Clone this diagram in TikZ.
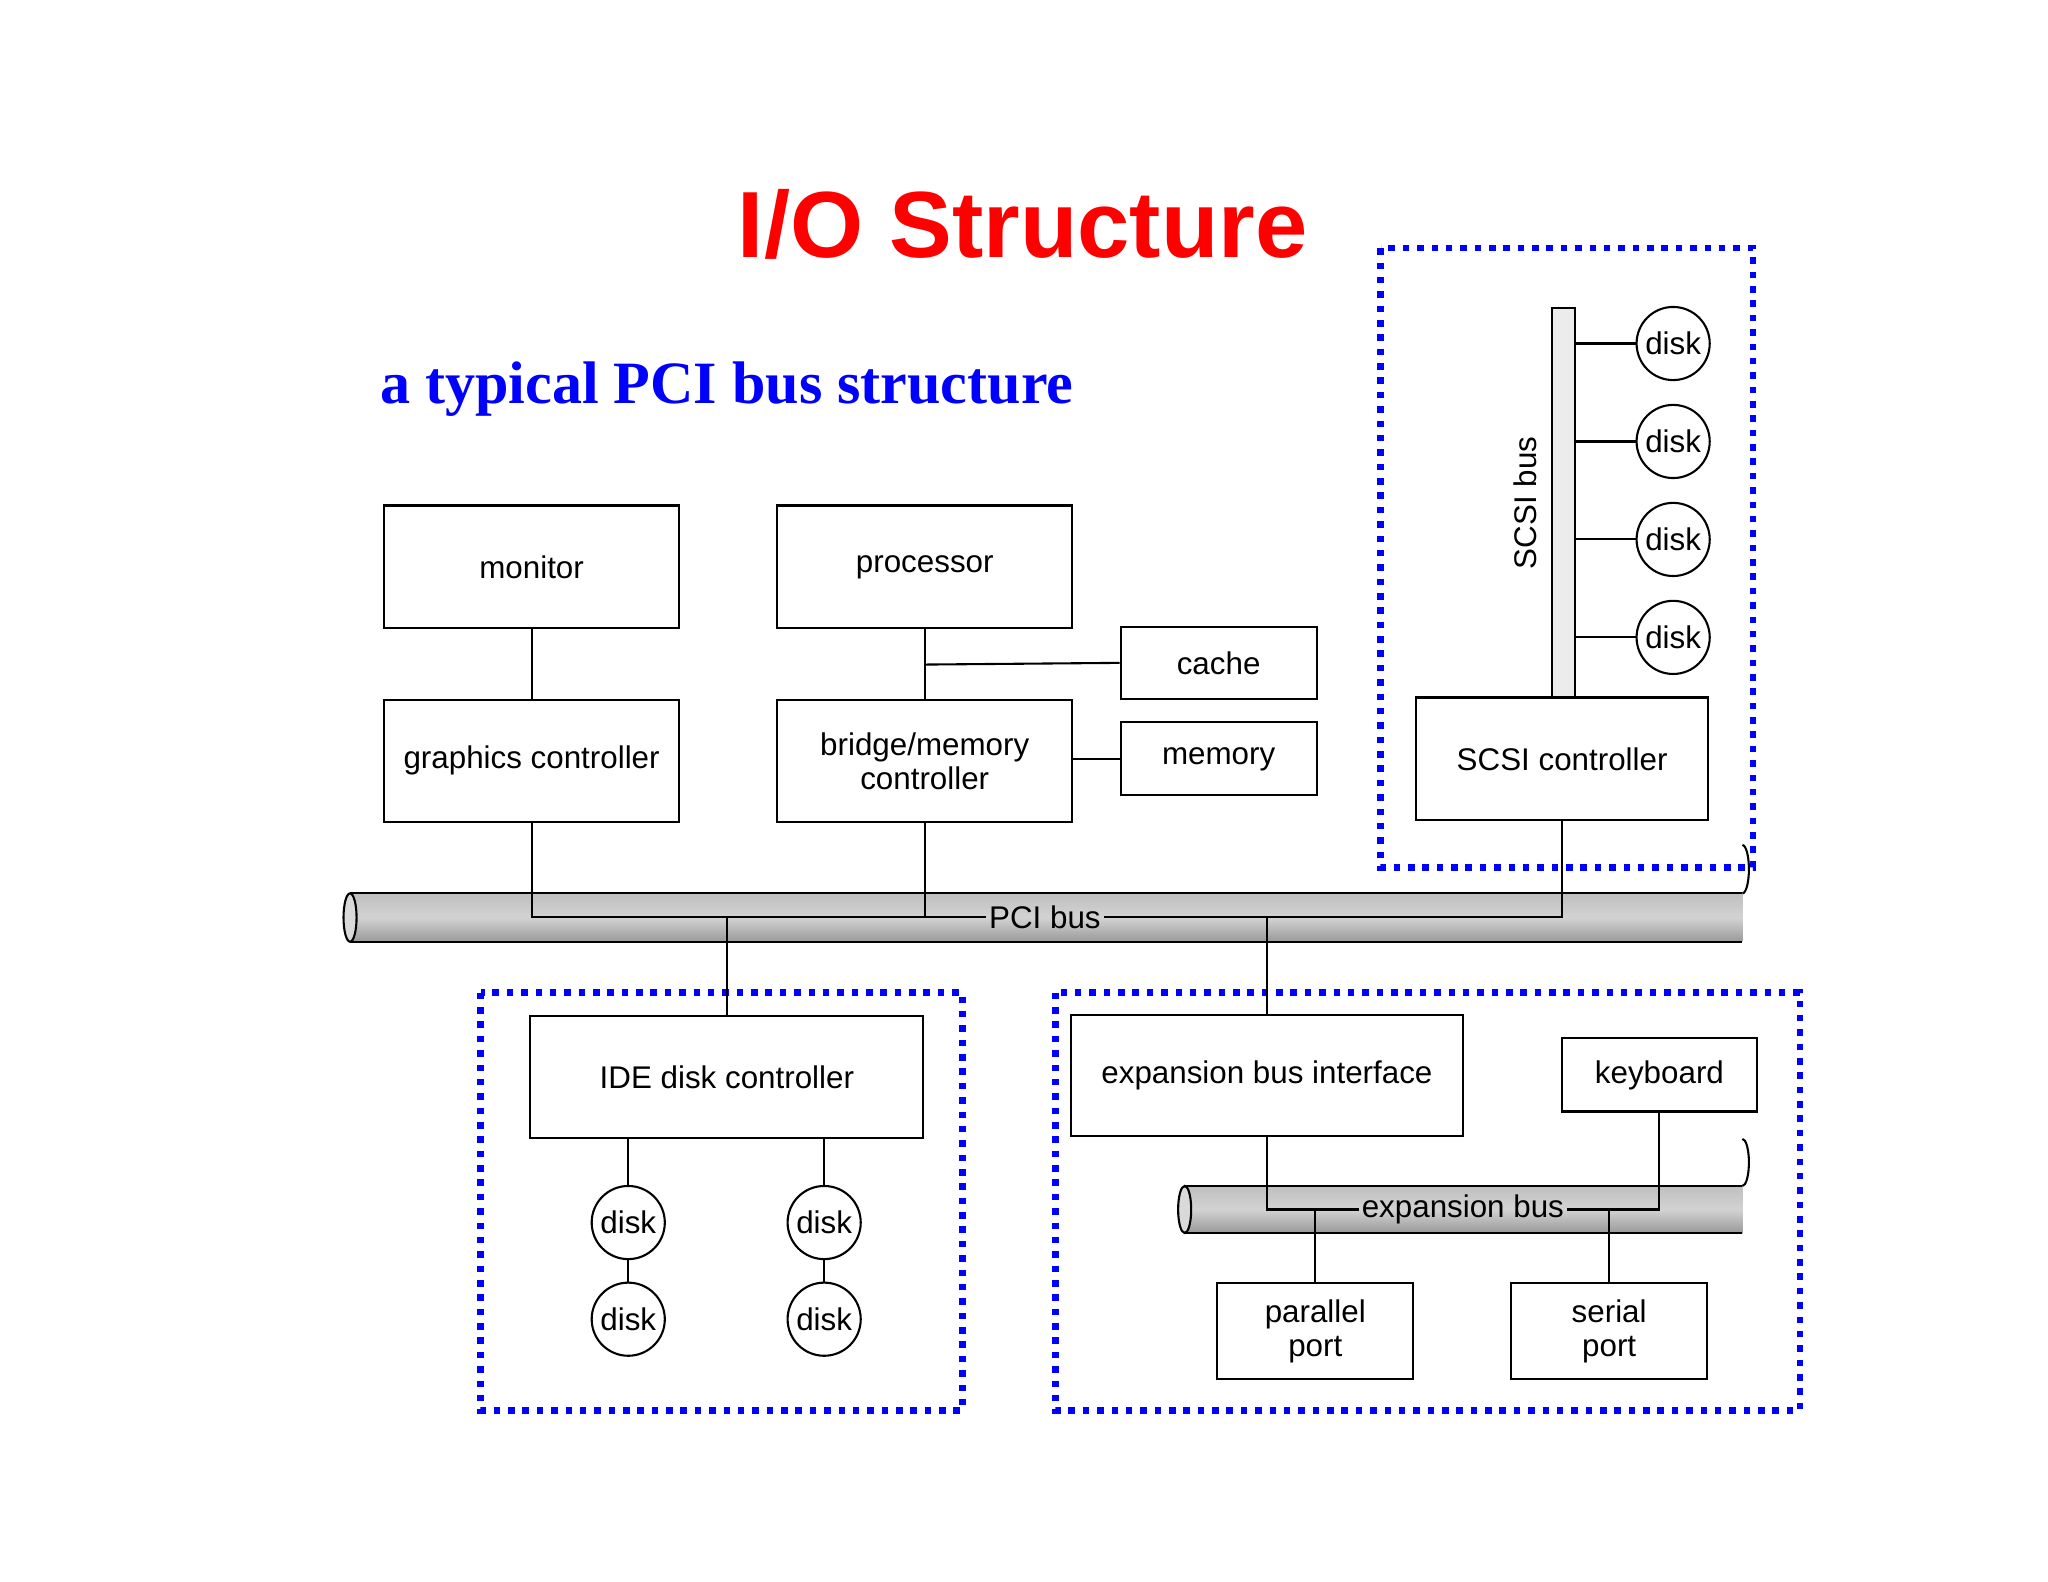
\documentclass[tikz,border=0pt]{standalone}
\usepackage{fontspec}
\setmainfont{Liberation Sans}
\newfontfamily\serifbold{Liberation Serif}
\begin{document}
\begin{tikzpicture}[x=0.5pt,y=-0.5pt,
  box/.style={draw,thick,inner sep=0pt,font=\fontsize{12}{13}\selectfont,align=center},
  dsk/.style={draw,thick,circle,minimum size=28pt,inner sep=0pt,font=\fontsize{12}{13}\selectfont},
  grp/.style={draw=blue,line width=2.5pt,dash pattern=on 2.5pt off 3pt},
  ln/.style={thick}]
\useasboundingbox (0,0) rectangle (1568,1211);
\fill[white] (0,0) rectangle (1568,1211);
\newcommand{\bx}[6]{\node[box,minimum width={(#4-#2)*0.5pt},minimum height={(#5-#3)*0.5pt}] (#1) at ({(#2+#4)/2},{(#3+#5)/2}) {#6};}
\newcommand{\cyl}[5]{% name x1 y1 x2 y2
  \shade[top color=gray!50,bottom color=gray!80,middle color=gray!35] (#2,#3) rectangle (#4,#5);
  \draw[thick] (#2,#3) -- (#4,#3) (#2,#5) -- (#4,#5);
  \draw[thick,fill=gray!30] (#2,{(#3+#5)/2}) ellipse [x radius=5,y radius={(#5-#3)/2}];
  \draw[thick] (#4,#3) arc[start angle=90,end angle=-90,x radius=5,y radius={(#5-#3)/2}];
  \coordinate (#1) at ({(#2+#4)/2},{(#3+#5)/2});}
\node[text=red,font=\fontsize{36}{40}\selectfont\bfseries] (title) at (783,172) {I/O Structure};
\node[text=blue,font=\serifbold\fontsize{23}{26}\selectfont\bfseries,anchor=west] (sub) at (284,298) {a typical PCI bus structure};
% groups
\draw[grp] (1057,190) rectangle (1342,664);
\draw[grp] (368,760) rectangle (737,1080);
\draw[grp] (808,760) rectangle (1378,1080);
% PCI bus
\cyl{pci}{268}{684}{1334}{721}
\cyl{exb}{907}{908}{1334}{944}
\node[font=\fontsize{12}{13}\selectfont,inner sep=1pt] (pcil) at (800,702) {PCI bus};
\node[font=\fontsize{12}{13}\selectfont,inner sep=1pt] (exbl) at (1120,926) {expansion bus};
% boxes
\bx{mon}{294}{387}{520}{481}{monitor}
\bx{proc}{595}{387}{821}{481}{processor}
\bx{cache}{858}{480}{1008}{535}{cache}
\bx{gc}{294}{536}{520}{629}{graphics controller}
\bx{br}{595}{536}{821}{629}{bridge/memory\\controller}
\bx{mem}{858}{553}{1008}{609}{memory}
\bx{scsi}{1084}{534}{1308}{628}{SCSI controller}
\bx{ide}{406}{778}{707}{871}{IDE disk controller}
\bx{ebi}{820}{777}{1120}{870}{expansion bus interface}
\bx{kb}{1196}{795}{1345}{851}{keyboard}
\bx{pp}{932}{982}{1082}{1056}{parallel\\port}
\bx{sp}{1157}{982}{1307}{1056}{serial\\port}
% SCSI bus
\draw[thick,fill=gray!15] (1188,236) rectangle (1206,534);
\coordinate (sbus) at (1206,236);
\node[rotate=90,font=\fontsize{12}{13}\selectfont] (sbl) at (1168,385) {SCSI bus};
\foreach \i/\y in {1/263,2/338,3/413,4/488}{
  \node[dsk] (sd\i) at (1281,\y) {disk};
  \draw[ln] (sd\i.west) -- (1206,\y);}
% IDE disks
\node[dsk] (d1) at (481,936) {disk};
\node[dsk] (d2) at (481,1010) {disk};
\node[dsk] (d3) at (631,936) {disk};
\node[dsk] (d4) at (631,1010) {disk};
\draw[ln] (ide.south -| d1) -- (d1) -- (d2);
\draw[ln] (ide.south -| d3) -- (d3) -- (d4);
% connectors
\draw[ln] (mon) -- (gc);
\draw[ln] (proc) -- (br);
\draw[ln] (proc.south) ++(0,27) -- (cache.west);
\draw[ln] (br.east |- mem) -- (mem.west);
\draw[ln] (gc.south) |- (pcil.west);
\draw[ln] (br.south) -- (br.south |- pcil);
\draw[ln] (scsi.south) |- (pcil.east);
\draw[ln] (ide.north) -- (ide.north |- pcil);
\draw[ln] (ebi.north) -- (ebi.north |- pcil);
\draw[ln] (ebi.south) |- (exbl.west);
\draw[ln] (pp.north) -- (pp.north |- exbl);
\draw[ln] (kb.south) |- (exbl.east);
\draw[ln] (sp.north) -- (sp.north |- exbl);
\end{tikzpicture}
\end{document}
